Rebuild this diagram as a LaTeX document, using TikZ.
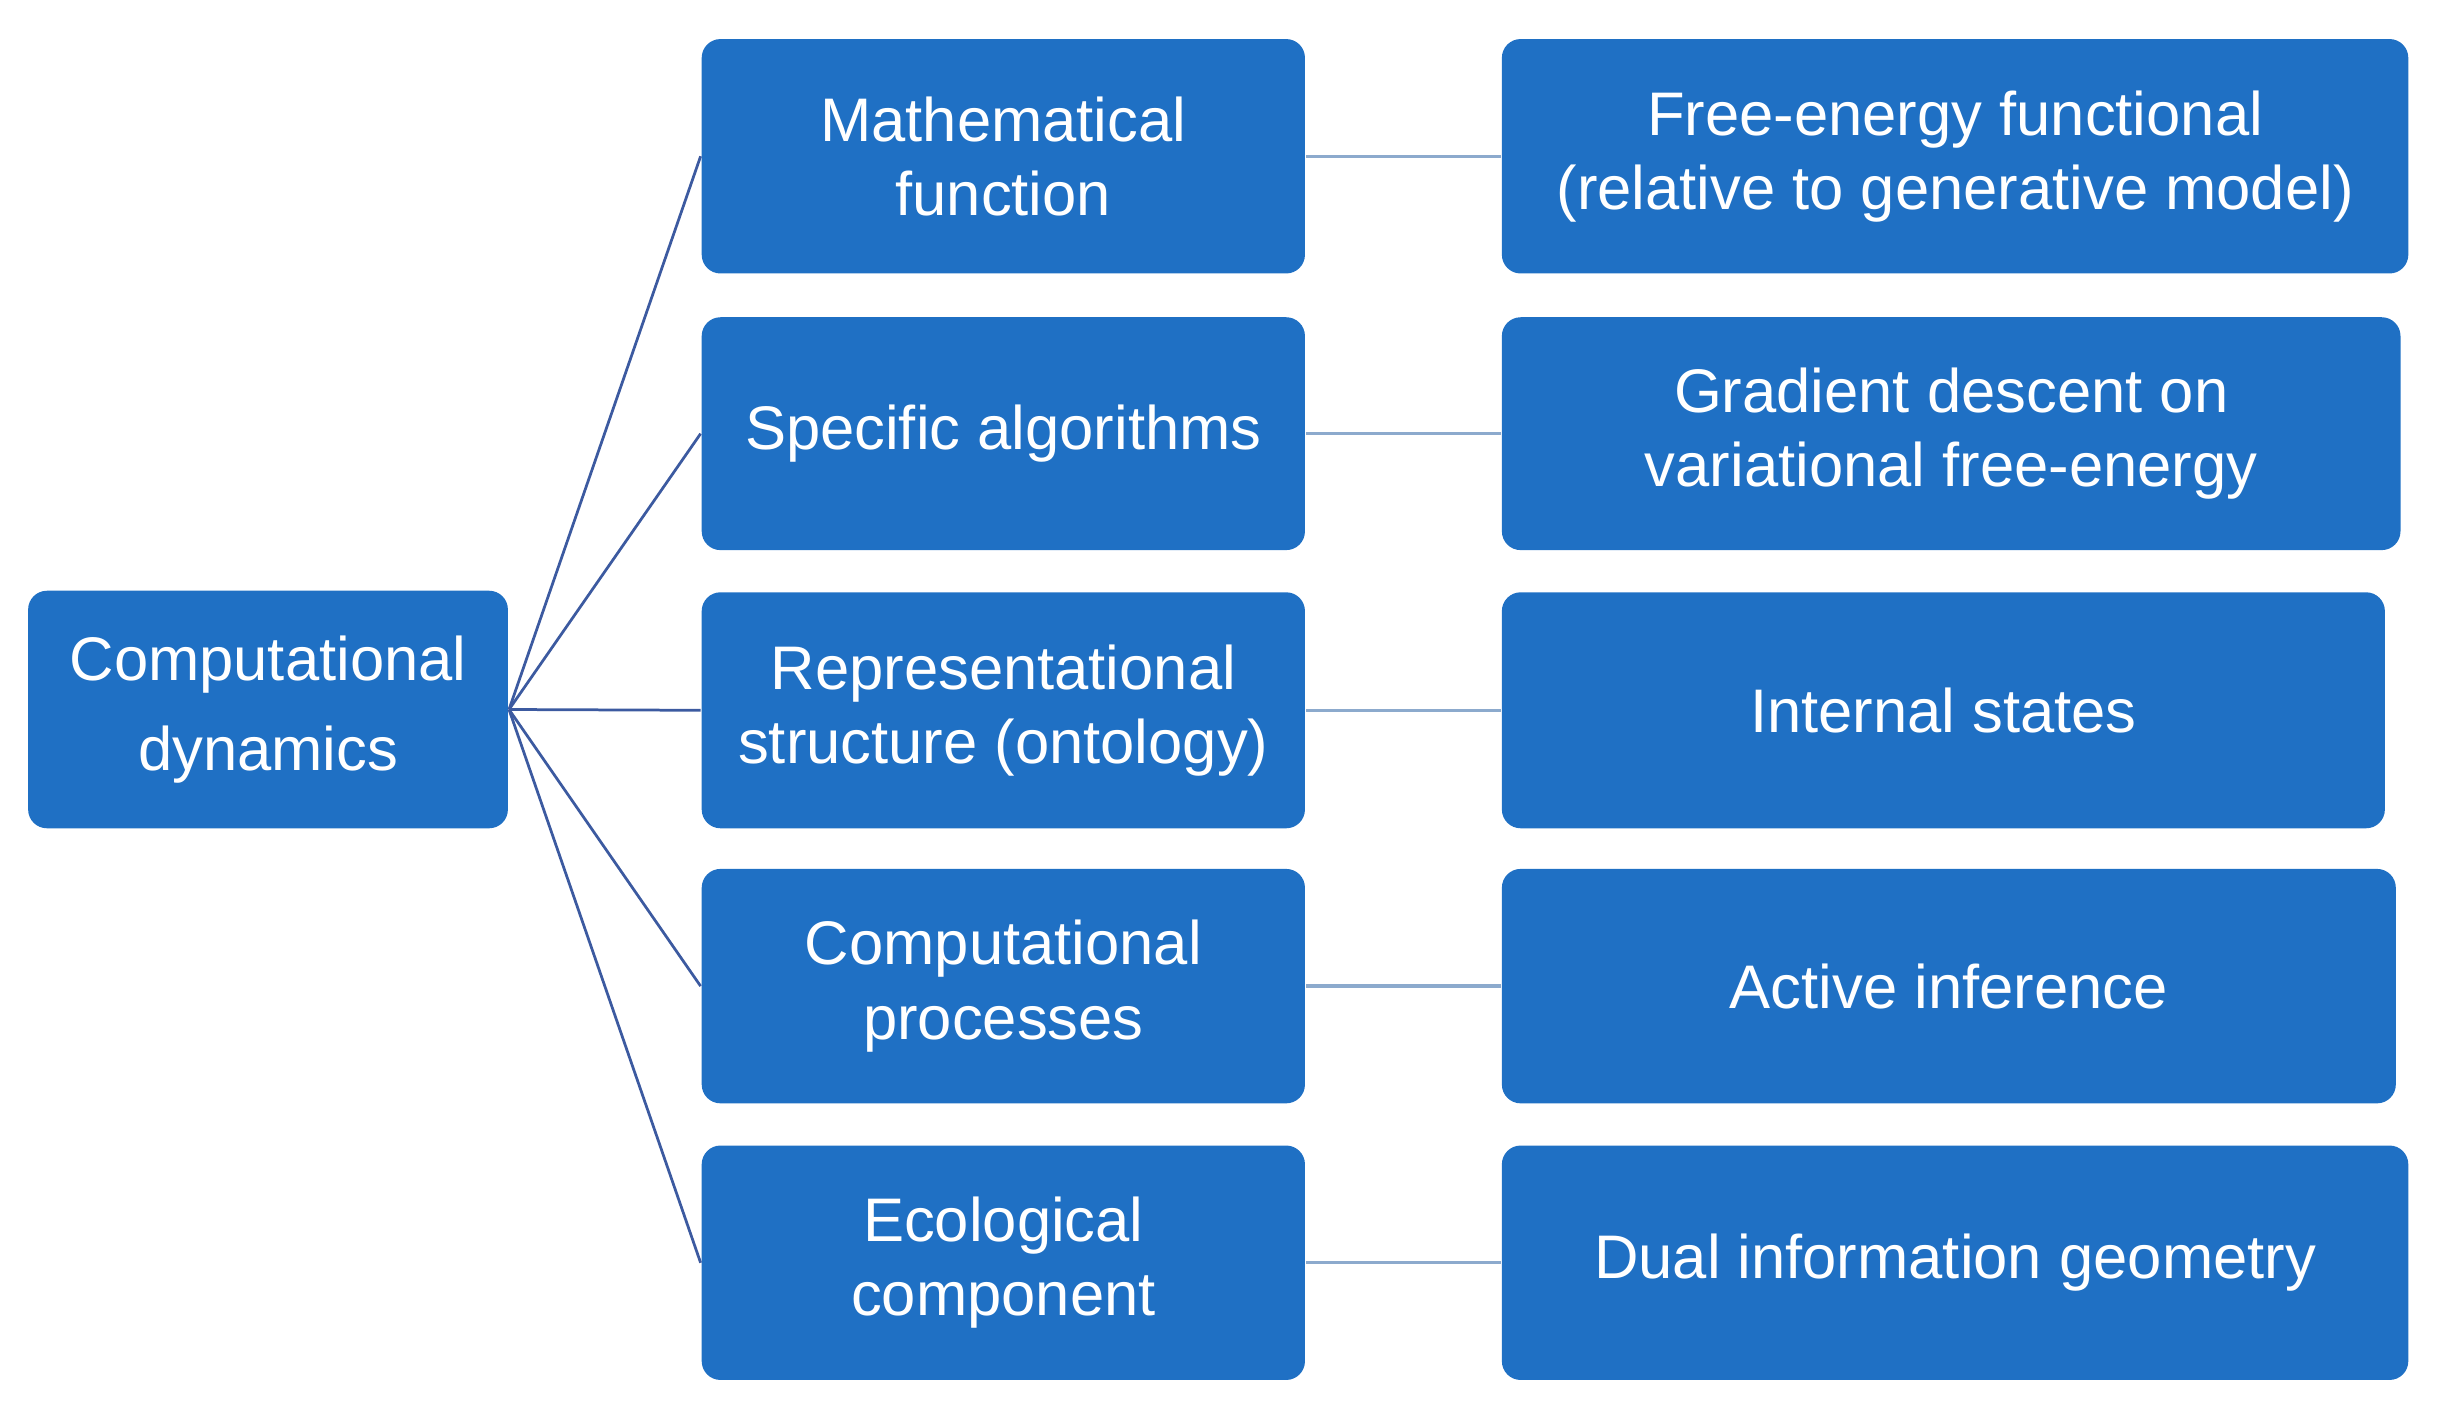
\documentclass[tikz,border=0pt]{standalone}
\usepackage{fontspec}
\setmainfont{Liberation Sans}
\definecolor{boxblue}{RGB}{31,112,196}
\definecolor{linkblue}{RGB}{60,90,160}
\definecolor{linkgray}{RGB}{140,170,205}
\begin{document}
\begin{tikzpicture}[x=0.01cm,y=-0.01cm,
  box/.style={draw=none,fill=boxblue,rounded corners=0.12cm,text=white,align=center,
    font=\fontsize{11.2}{13.5}\selectfont,inner sep=0pt},
  tree/.style={draw=linkblue,line width=0.5pt},
  link/.style={draw=linkgray,line width=0.6pt}]
\useasboundingbox (0,0) rectangle (1560,907);
\newcommand{\bx}[6]{\node[box,minimum width=#4*0.01cm-#2*0.01cm,minimum height=#5*0.01cm-#3*0.01cm] (#1) at ({(#2+#4)/2},{(#3+#5)/2}) {#6};}
\bx{root}{18}{378}{325}{530}{Computational\\[3pt]dynamics}
\bx{m1}{449}{25}{835}{175}{Mathematical\\function}
\bx{m2}{449}{203}{835}{352}{Specific algorithms}
\bx{m3}{449}{379}{835}{530}{Representational\\structure (ontology)}
\bx{m4}{449}{556}{835}{706}{Computational\\processes}
\bx{m5}{449}{733}{835}{883}{Ecological\\component}
\bx{r1}{961}{25}{1541}{175}{Free-energy functional\\(relative to generative model)}
\bx{r2}{961}{203}{1536}{352}{Gradient descent on\\variational free-energy}
\bx{r3}{961}{379}{1526}{530}{Internal states}
\bx{r4}{961}{556}{1533}{706}{Active inference}
\bx{r5}{961}{733}{1541}{883}{Dual information geometry}
\foreach \i in {1,...,5}{
  \draw[tree] (root.east) -- (m\i.west);
  \draw[link] (m\i.east) -- (r\i.west);
}
\end{tikzpicture}
\end{document}
